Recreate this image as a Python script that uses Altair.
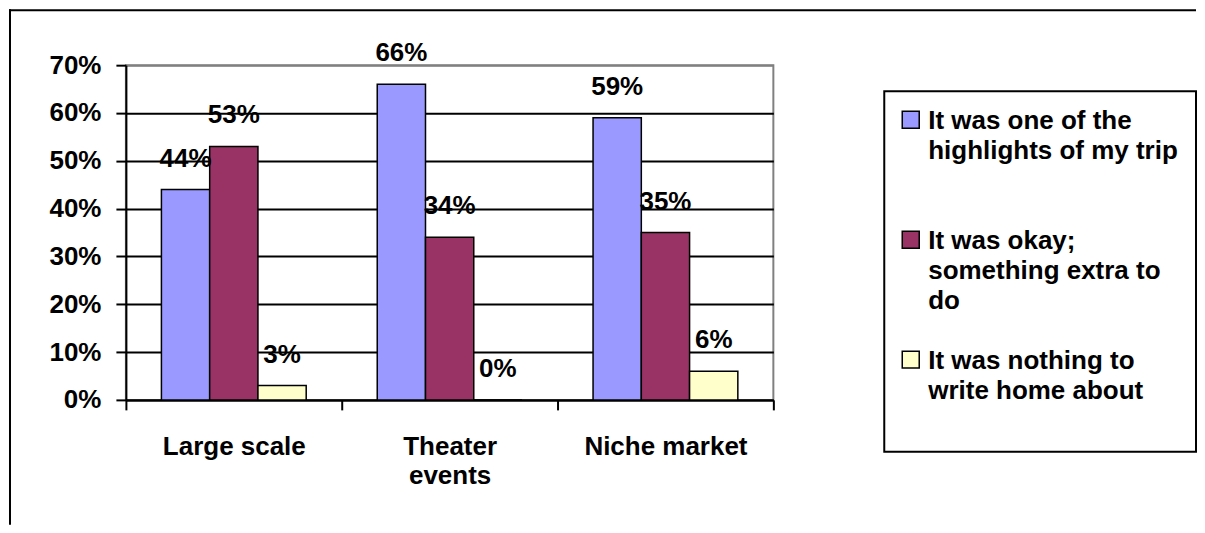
import json
import altair as alt
import pandas as pd

# ---- data ----
categories = ["Large scale", "Theater events", "Niche market"]
series = [
    "It was one of the highlights of my trip",
    "It was okay; something extra to do",
    "It was nothing to write home about",
]
highlights = [0.44, 0.66, 0.59]
okay = [0.53, 0.34, 0.35]
nothing = [0.03, 0.00, 0.06]
colors = ["#9999FF", "#993366", "#FFFFCC"]
y_ticks = [0.0, 0.1, 0.2, 0.3, 0.4, 0.5, 0.6, 0.7]

# wrapped label text (as in the reference)
legend_lines = {
    series[0]: ["It was one of the", "highlights of my trip", ""],
    series[1]: ["It was okay;", "something extra to", "do"],
    series[2]: ["It was nothing to", "write home about", ""],
}
axis_lines = {"Theater events": ["Theater", "events"]}

rows = []
for s, vals in zip(series, [highlights, okay, nothing]):
    for c, v in zip(categories, vals):
        rows.append({"Category": c, "Series": s, "Value": v})
df = pd.DataFrame(rows)


def label_expr(mapping, default="datum.label"):
    expr = default
    for k, v in reversed(list(mapping.items())):
        expr = f"datum.label == {json.dumps(k)} ? {json.dumps(v)} : ({expr})"
    return expr


FONT = "Liberation Sans"

x = alt.X(
    "Category:N",
    sort=categories,
    scale=alt.Scale(paddingInner=0, paddingOuter=0),
    axis=alt.Axis(
        title=None, labelAngle=0, labelFont=FONT, labelFontSize=26,
        labelFontWeight="bold", labelColor="black", labelPadding=24,
        labelLimit=400, labelLineHeight=29, labelExpr=label_expr(axis_lines),
        tickBand="extent", tickSize=10, tickWidth=2, tickColor="black",
        domainColor="black", domainWidth=2, grid=False,
    ),
)
xo = alt.XOffset(
    "Series:N", sort=series,
    scale=alt.Scale(paddingInner=0, paddingOuter=0.736),
)
y = alt.Y(
    "Value:Q",
    scale=alt.Scale(domain=[0, 0.7], nice=False),
    axis=alt.Axis(
        title=None, values=y_ticks, format=".0%", labelFont=FONT,
        labelFontSize=26, labelFontWeight="bold", labelColor="black",
        labelPadding=15, tickSize=10, tickWidth=2, tickColor="black",
        domainColor="black", domainWidth=2, grid=True, gridWidth=2,
        gridColor={"condition": {"test": "datum.value >= 0.69", "value": "#808080"}, "value": "black"},
    ),
)

base = alt.Chart(df)

bars = base.mark_bar(stroke="black", strokeWidth=1.5).encode(
    x=x, xOffset=xo, y=y,
    color=alt.Color(
        "Series:N", sort=series,
        scale=alt.Scale(domain=series, range=colors),
        legend=alt.Legend(
            title=" ", titleFontSize=1, titlePadding=6,
            orient="none", legendX=759, legendY=26,
            direction="vertical", strokeColor="black", padding=18,
            labelFont=FONT, labelFontSize=26, labelFontWeight="bold",
            labelColor="black", labelBaseline="alphabetic", labelLimit=500,
            labelOffset=0, labelExpr=label_expr(legend_lines),
            symbolType="M-13,-17.8h17v17h-17Z", symbolSize=4,
            symbolStrokeColor="black", symbolStrokeWidth=1.5,
            symbolOpacity=1, rowPadding=34, gridAlign="all",
        ),
    ),
)

labels = base.mark_text(
    dy=-31, baseline="middle", align="center", font=FONT, fontSize=26,
    fontWeight="bold", color="black",
).encode(x=x, xOffset=xo, y=y, text=alt.Text("Value:Q", format=".0%"))

# decorative outer frame (top and left edges of the surrounding box)
frame_df = pd.DataFrame({"k": [0]})
frame_left = alt.Chart(frame_df).mark_rule(color="black", strokeWidth=2).encode(
    x=alt.value(-116), y=alt.value(-56), y2=alt.value(460)
)
frame_top = alt.Chart(frame_df).mark_rule(color="black", strokeWidth=2).encode(
    x=alt.value(-117), x2=alt.value(1071), y=alt.value(-55)
)

chart = alt.layer(bars, labels, frame_left, frame_top).properties(
    width=648, height=335, padding=0
).configure(
    view=alt.ViewConfig(stroke="#808080", strokeWidth=2),
    legend=alt.LegendConfig(strokeWidth=2),
    style={"guide-label": {"lineHeight": 30}},
)

chart.save("out.html", embed_options={"renderer": "svg", "actions": False})
